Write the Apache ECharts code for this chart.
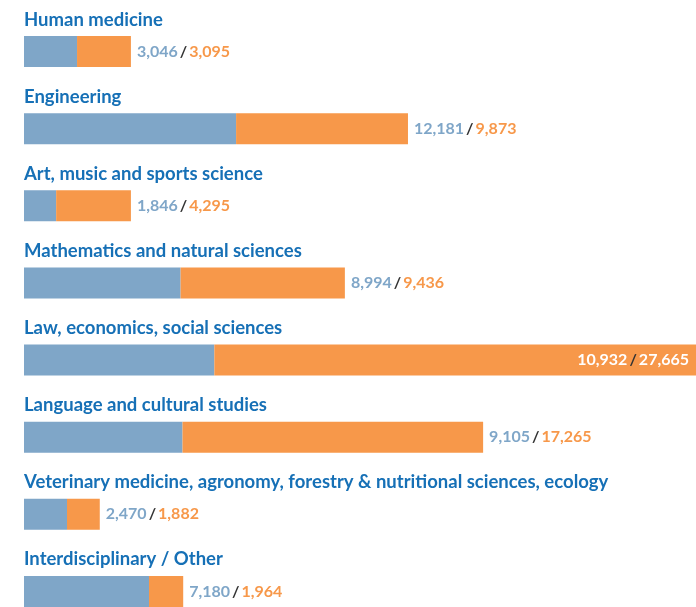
<!DOCTYPE html>
<html>
<head>
<meta charset="utf-8">
<script src="https://cdn.jsdelivr.net/npm/echarts@6/dist/echarts.min.js"></script>
<style>
  html, body { margin: 0; padding: 0; background: #fff; overflow: hidden; }
  /* taller than the window: last bar is cut off at the bottom edge */
  #chart { width: 696px; height: 630px; }
</style>
</head>
<body>
<div id="chart"></div>
<script>
// subjects, top to bottom
const categories = [
  'Human medicine',
  'Engineering',
  'Art, music and sports science',
  'Mathematics and natural sciences',
  'Law, economics, social sciences',
  'Language and cultural studies',
  'Veterinary medicine, agronomy, forestry & nutritional sciences, ecology',
  'Interdisciplinary / Other'
];
const blueValues = [3046, 12181, 1846, 8994, 10932, 9105, 2470, 7180];
const orangeValues = [3095, 9873, 4295, 9436, 27665, 17265, 1882, 1964];

const BLUE = '#7fa6c8';
const ORANGE = '#f7984a';
const TITLE = '#1670b6';
const FONT = 'Lato';
const NUM = 16;

const fmt = v => v.toLocaleString('en-US');
const maxTotal = Math.max(...blueValues.map((v, i) => v + orangeValues[i]));

const numStyle = color => ({ color, fontFamily: FONT, fontWeight: 'bold', fontSize: NUM });
const slashStyle = { color: '#333', fontFamily: FONT, fontWeight: 'bold', fontSize: NUM, padding: [0, 2] };

const chart = echarts.init(document.getElementById('chart'));

chart.setOption({
  animation: false,
  grid: { left: 24, right: 0, top: 13, bottom: 0 },
  xAxis: { type: 'value', min: 0, max: maxTotal, show: false },
  yAxis: {
    type: 'category',
    inverse: true,
    data: categories,
    show: false
  },
  series: [
    {
      type: 'bar',
      stack: 'total',
      barWidth: 31,
      data: blueValues,
      itemStyle: { color: BLUE },
      label: {
        show: true,
        position: [0, -26],
        formatter: p => p.name,
        color: TITLE,
        fontFamily: FONT,
        fontWeight: 'bold',
        fontSize: 18.5
      }
    },
    {
      type: 'bar',
      stack: 'total',
      barWidth: 31,
      data: orangeValues.map((v, i) => {
        const inside = v + blueValues[i] === maxTotal;
        return {
          value: v,
          label: inside ? {
            position: 'insideRight',
            distance: 7,
            rich: { a: numStyle('#fff'), s: slashStyle, b: numStyle('#fff') }
          } : {}
        };
      }),
      itemStyle: { color: ORANGE },
      label: {
        show: true,
        position: 'right',
        distance: 6,
        formatter: p => '{a|' + fmt(blueValues[p.dataIndex]) + '}{s|/}{b|' + fmt(p.value) + '}',
        rich: { a: numStyle(BLUE), s: slashStyle, b: numStyle(ORANGE) }
      }
    }
  ]
});
</script>
</body>
</html>
